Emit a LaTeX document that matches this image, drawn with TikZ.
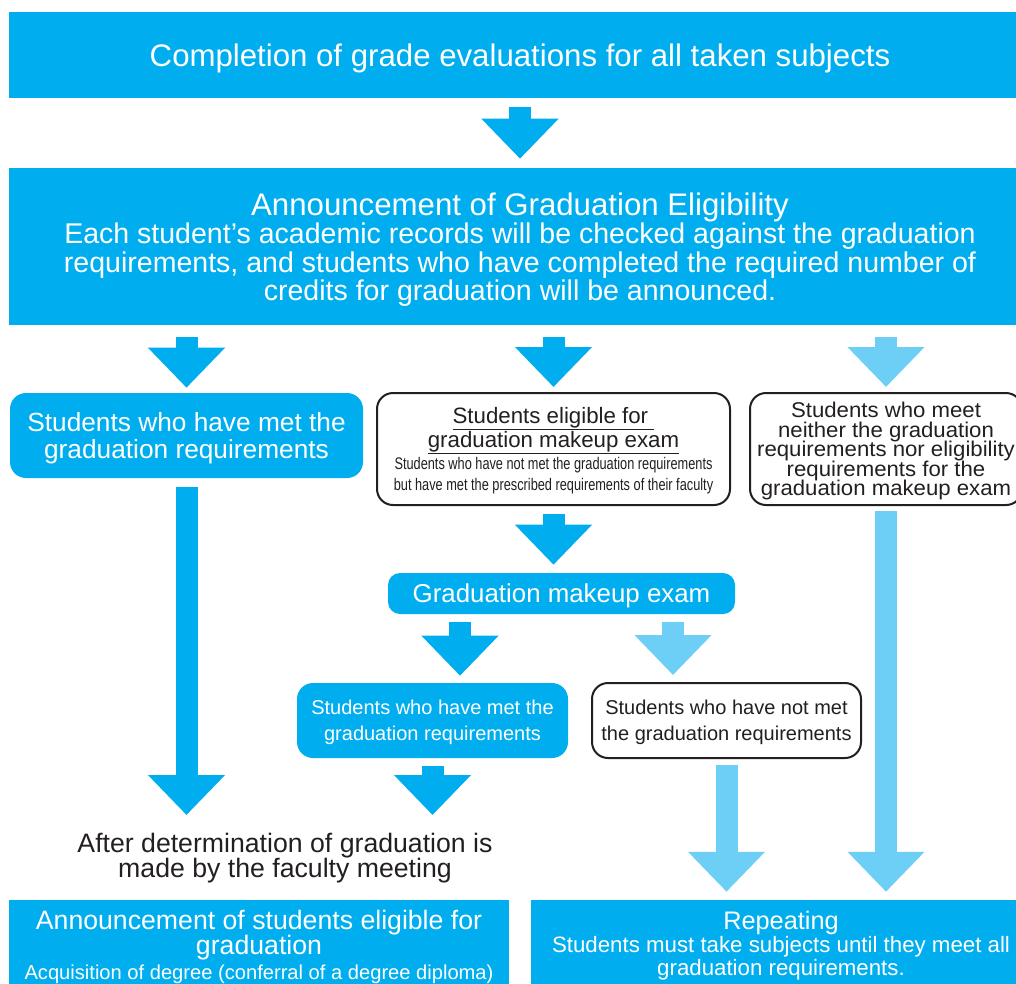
\documentclass[tikz,border=0pt]{standalone}
\usepackage{fontspec}
\setmainfont{Liberation Sans}
\newfontfamily\narrowfont[FakeStretch=0.76]{Liberation Sans}
\newfontfamily\widefont[FakeStretch=1.04]{Liberation Sans}
\usetikzlibrary{arrows.meta,calc}
\definecolor{dblue}{HTML}{00AEEF}
\definecolor{lblue}{HTML}{6DCFF6}
\definecolor{ink}{HTML}{231F20}
\newcommand{\fsz}[2]{\fontsize{#1}{#2}\selectfont\lineskiplimit=-20pt}

\begin{document}
\begin{tikzpicture}[x=0.75pt, y=-0.75pt,
    band/.style={fill=dblue, text=white, align=center, inner sep=0pt, text depth=0pt},
    bluebox/.style={band, rounded corners=12pt},
    whitebox/.style={draw=ink, line width=1.5pt, fill=white, text=ink, align=center, inner sep=0pt, text depth=0pt, rounded corners=12pt},
    fat/.style={draw=dblue, line width=16.5pt, -{Triangle[width=56pt,length=30pt]}},
    fatlight/.style={fat, draw=lblue}]
  \useasboundingbox (0,0) rectangle (1016,983);

  % Top band
  \node[band, minimum width=766.5pt, minimum height=64.5pt, font=\fsz{23.4}{26}] (done) at (520,55)
    {Completion of grade evaluations for all taken subjects};

  % Eligibility announcement
  \node[band, minimum width=766.5pt, minimum height=117.75pt, font=\fsz{21.5}{21.3}] (elig) at (520,246.5)
    {\fsz{23.4}{21.3}Announcement of Graduation Eligibility\\
     \fsz{21.4}{21.3}Each student’s academic records will be checked against the graduation\\
     \fsz{21.4}{21.3}requirements, and students who have completed the required number of\\
     \fsz{21.4}{21.3}credits for graduation will be announced.};

  % Three groups
  \node[bluebox, minimum width=264.75pt, minimum height=63.75pt, font=\fsz{19.7}{20.3}] (metA) at (186.5,435.5)
    {Students who have met the\\graduation requirements};
  \node[whitebox, minimum width=264.75pt, minimum height=84pt, font=\fsz{16.7}{18}] (eligExam) at (553.5,449)
    {\underline{Students eligible for~}\\
     \underline{graduation makeup exam}\\[-0.9pt]
     \narrowfont\fontsize{12.6}{18}\selectfont Students who have not met the graduation requirements\\[-2.25pt]
     \narrowfont\fontsize{12.6}{18}\selectfont but have met the prescribed requirements of their faculty};
  \node[whitebox, minimum width=204pt, minimum height=84pt, font=\widefont\fsz{16}{14.6}] (neither) at (886,449)
    {Students who meet\\neither the graduation\\requirements nor eligibility\\requirements for the\\graduation makeup exam};

  % Makeup exam and its results
  \node[bluebox, rounded corners=9pt, minimum width=260.25pt, minimum height=30.75pt, font=\fsz{19.4}{20}] (exam) at (561.5,593.5)
    {Graduation makeup exam};
  \node[bluebox, minimum width=203.25pt, minimum height=56.25pt, font=\fsz{15}{19.5}] (metB) at (432.5,720.5)
    {Students who have met the\\graduation requirements};
  \node[whitebox, minimum width=201.75pt, minimum height=56.25pt, font=\fsz{15}{19.5}] (notB) at (726.5,720.5)
    {Students who have not met\\the graduation requirements};

  % Faculty meeting
  \node[text=ink, align=center, inner sep=0pt, font=\fsz{20}{18.75}] (after) at (285,858.5)
    {After determination of graduation is\\made by the faculty meeting};
  \coordinate (jdg) at (285,815);

  % Bottom bands
  \node[band, minimum width=375pt, minimum height=67.5pt, font=\fsz{20}{18.75}] (award) at (259,945)
    {Announcement of students eligible for\\
     graduation\\
     \fontsize{15.1}{18.75}\selectfont Acquisition of degree (conferral of a degree diploma)};
  \node[band, minimum width=375pt, minimum height=64.5pt, font=\fsz{16.7}{17}] (repeat) at (781,943)
    {\fontsize{19}{17}\selectfont Repeating\\[0.5pt]
     Students must take subjects until they meet all\\
     graduation requirements.};

  % Arrows
  \coordinate (forkL) at ($(exam.south)+(-101.5,0)$);
  \coordinate (forkR) at ($(exam.south)+(111.5,0)$);
  \draw[fat, shorten <=6.75pt, shorten >=6.75pt] (done.south) -- (elig.north);
  \draw[fat, shorten <=9pt, shorten >=3.75pt] (elig.south -| metA.north) -- (metA.north);
  \draw[fat, shorten <=9pt, shorten >=3.75pt] (elig.south -| eligExam.north) -- (eligExam.north);
  \draw[fatlight, shorten <=9pt, shorten >=3.75pt] (elig.south -| neither.north) -- (neither.north);
  \draw[fat, shorten <=6.75pt] (metA.south) -- (metA.south |- jdg);
  \draw[fat, shorten <=6pt, shorten >=6pt] (eligExam.south) -- (eligExam.south |- exam.north);
  \draw[fat, shorten <=6pt, shorten >=5.25pt] (forkL) -- (forkL |- metB.north);
  \draw[fatlight, shorten <=6pt, shorten >=5.25pt] (forkR) -- (forkR |- notB.north);
  \draw[fat, shorten <=6pt] (metB.south) -- (metB.south |- jdg);
  \draw[fatlight, shorten <=4.5pt, shorten >=6pt] (notB.south) -- (notB.south |- repeat.north);
  \draw[fatlight, shorten <=3.75pt, shorten >=6pt] (neither.south) -- (neither.south |- repeat.north);
\end{tikzpicture}
\end{document}
